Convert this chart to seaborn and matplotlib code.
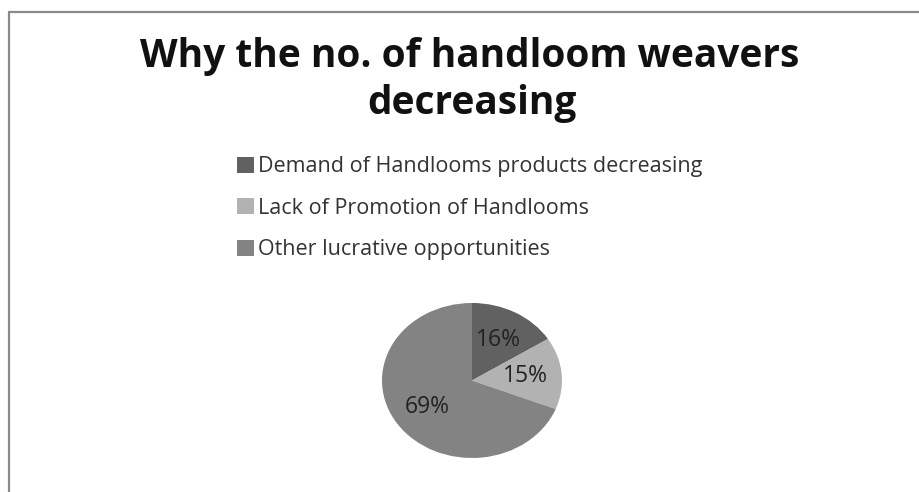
import matplotlib
matplotlib.use("Agg")
import matplotlib.pyplot as plt
from matplotlib.lines import Line2D
import seaborn as sns

# Survey shares: reasons behind the falling number of handloom weavers
reasons = [
    "Demand of Handlooms products decreasing",
    "Lack of Promotion of Handlooms",
    "Other lucrative opportunities",
]
shares = [16, 15, 69]
slice_colors = ["#616161", "#b2b2b2", "#838383"]

sns.set_theme(style="white")
plt.rcParams["font.family"] = ["Open Sans", "DejaVu Sans"]

W, H = 919, 492
fig = plt.figure(figsize=(W / 100, H / 100), dpi=100)
fig.patch.set_facecolor("white")

palette = sns.color_palette(slice_colors)

# Pie axes: stretched slightly wider than tall
cx, cy, rx, ry = 472, 380.5, 90, 77.5
ax = fig.add_axes([(cx - rx) / W, (H - cy - ry) / H, 2 * rx / W, 2 * ry / H])
wedges, texts, autotexts = ax.pie(
    shares,
    colors=palette,
    startangle=90,
    counterclock=False,
    autopct=lambda p: f"{p:.0f}%",
    pctdistance=0.6,
    wedgeprops=dict(linewidth=0),
    textprops=dict(fontsize=16.5, color="#222222"),
)
ax.set_aspect("auto")
ax.set_xlim(-1, 1)
ax.set_ylim(-1, 1)
ax.axis("off")

# Title
title_kw = dict(ha="center", va="baseline", fontsize=28, fontweight="bold",
                color="#111111")
fig.text(470 / W, 1 - 67 / H, "Why the no. of handloom weavers", **title_kw)
fig.text(472 / W, 1 - 114 / H, "decreasing", **title_kw)

# Legend
fig.legend(
    wedges, reasons,
    loc="upper left",
    bbox_to_anchor=(218 / W, 1 - 137 / H),
    frameon=False,
    fontsize=15.5,
    labelcolor="#333333",
    handlelength=0.75,
    handleheight=0.75,
    handletextpad=0.2,
    labelspacing=0.95,
)

# Frame lines along the top and left edges
frame_kw = dict(color="#8a8a8a", linewidth=1.6, transform=fig.transFigure)
fig.add_artist(Line2D([9 / W, 1.0], [1 - 12 / H, 1 - 12 / H], **frame_kw))
fig.add_artist(Line2D([9 / W, 9 / W], [1 - 12 / H, 0.0], **frame_kw))

fig.savefig("out.png", dpi=100, facecolor="white")
